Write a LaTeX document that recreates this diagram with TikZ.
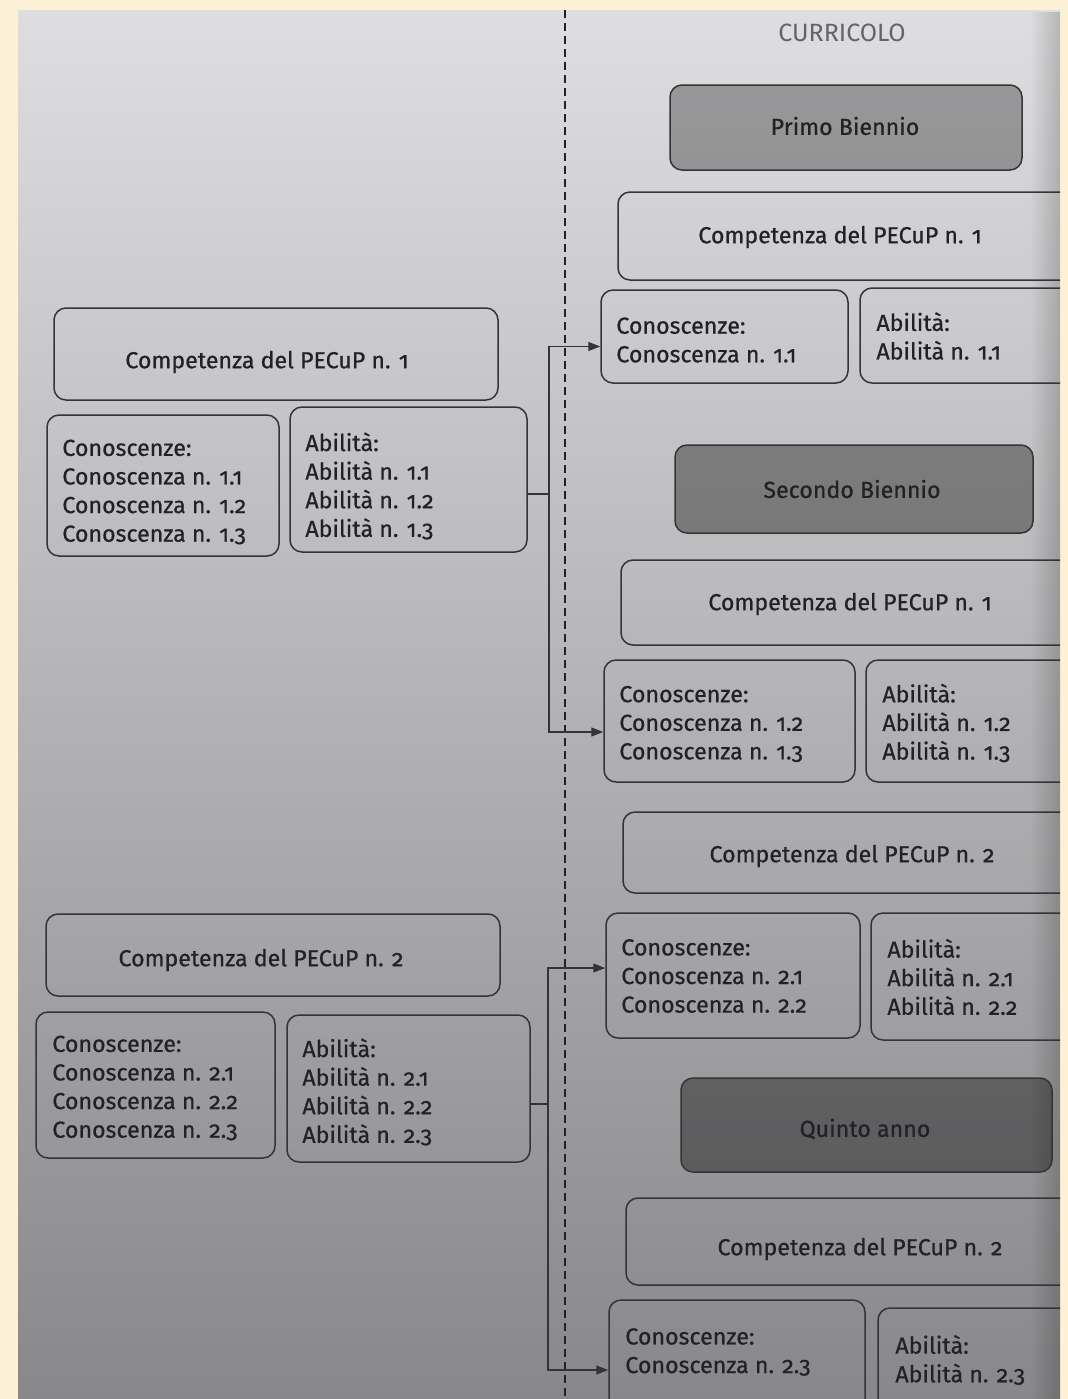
\documentclass[tikz,border=0pt]{standalone}
\usepackage{fontspec}
\setmainfont{Fira Sans}[Numbers=OldStyle, FakeBold=0.6]
\newfontfamily\titlefont{Fira Sans}[Numbers=OldStyle]
\usetikzlibrary{arrows.meta,fit,fadings}
\definecolor{cream}{RGB}{252,240,214}
\definecolor{pgtop}{RGB}{222,222,224}
\definecolor{pgmid}{RGB}{182,182,184}
\definecolor{pgbot}{RGB}{136,136,138}
\definecolor{ink}{RGB}{34,34,36}
\definecolor{edge}{RGB}{52,52,54}
\tikzset{
  box/.style={draw=edge, line width=0.75pt, rounded corners=6pt, inner sep=0pt},
  hdr/.style={box, fill=black, fill opacity=0.3, text opacity=1},
  lbl/.style={text=ink, font=\fontsize{11.6}{14.3}\selectfont, inner sep=0pt},
  lst/.style={lbl, anchor=west, align=left},
  conn/.style={draw=edge, line width=0.6pt},
  tip/.style={-{Triangle[length=6pt,width=4.5pt]}},
  divider/.style={draw=ink, line width=1.1pt, dash pattern=on 4pt off 2.5pt}
}
\begin{document}
\begin{tikzpicture}[x=0.5pt,y=-0.5pt]
\useasboundingbox (0,0) rectangle (1068,1399);
% photo surround and page
\fill[cream] (0,0) rectangle (1068,1399);
\shade[top color=pgtop, middle color=pgmid, bottom color=pgbot] (18,10) rectangle (1060,1399);
\fill[black, opacity=0.18, path fading=west] (1030,10) rectangle (1060,1399);

% dividing line between the two columns
\coordinate (dtop) at (565,10);
\coordinate (dbot) at (565,1399);
\draw[divider] (dtop) -- (dbot);

\node[lbl, text=ink!70, font=\titlefont\fontsize{12.5}{14}\selectfont] (title) at (842,33) {CURRICOLO};

\begin{scope}
\clip (18,10) rectangle (1060,1399);
% left column
\node[box, fit={(54,308) (498,400)}] (lcomp1) {};
\node[lbl] (lcomp1t) at (267,362) {Competenza del PECuP n. 1};
\node[box, fit={(47,415) (279,556)}] (lcon1) {};
\node[lst] (lcon1t) at (62,492) {Conoscenze:\\Conoscenza n. 1.1\\Conoscenza n. 1.2\\Conoscenza n. 1.3};
\node[box, fit={(290,407) (527,552)}] (labi1) {};
\node[lst] (labi1t) at (305,486) {Abilità:\\Abilità n. 1.1\\Abilità n. 1.2\\Abilità n. 1.3};

\node[box, fit={(46,914) (500,996)}] (lcomp2) {};
\node[lbl] (lcomp2t) at (261,960) {Competenza del PECuP n. 2};
\node[box, fit={(36,1012) (275,1158)}] (lcon2) {};
\node[lst] (lcon2t) at (52,1088) {Conoscenze:\\Conoscenza n. 2.1\\Conoscenza n. 2.2\\Conoscenza n. 2.3};
\node[box, fit={(287,1015) (530,1162)}] (labi2) {};
\node[lst] (labi2t) at (302,1092) {Abilità:\\Abilità n. 2.1\\Abilità n. 2.2\\Abilità n. 2.3};

% right column
\node[hdr, fit={(670,85) (1022,170)}] (hdr1) {};
\node[lbl] (hdr1t) at (845,126) {Primo Biennio};
\node[box, fit={(618,192) (1110,280)}] (rcomp1) {};
\node[lbl] (rcomp1t) at (840,237) {Competenza del PECuP n. 1};
\node[box, fit={(601,290) (848,383)}] (rcon1) {};
\node[lst] (rcon1t) at (616,340) {Conoscenze:\\Conoscenza n. 1.1};
\node[box, fit={(860,288) (1110,383)}] (rabi1) {};
\node[lst] (rabi1t) at (876,336) {Abilità:\\Abilità n. 1.1};

\node[hdr, fill opacity=0.36, fit={(675,445) (1033,533)}] (hdr2) {};
\node[lbl] (hdr2t) at (852,489) {Secondo Biennio};
\node[box, fit={(621,560) (1110,645)}] (rcomp2) {};
\node[lbl] (rcomp2t) at (850,604) {Competenza del PECuP n. 1};
\node[box, fit={(604,660) (855,782)}] (rcon2) {};
\node[lst] (rcon2t) at (619,724) {Conoscenze:\\Conoscenza n. 1.2\\Conoscenza n. 1.3};
\node[box, fit={(866,660) (1110,782)}] (rabi2) {};
\node[lst] (rabi2t) at (882,723) {Abilità:\\Abilità n. 1.2\\Abilità n. 1.3};

\node[box, fit={(623,812) (1110,893)}] (rcomp3) {};
\node[lbl] (rcomp3t) at (852,856) {Competenza del PECuP n. 2};
\node[box, fit={(606,913) (860,1038)}] (rcon3) {};
\node[lst] (rcon3t) at (621,976) {Conoscenze:\\Conoscenza n. 2.1\\Conoscenza n. 2.2};
\node[box, fit={(871,913) (1110,1040)}] (rabi3) {};
\node[lst] (rabi3t) at (887,977) {Abilità:\\Abilità n. 2.1\\Abilità n. 2.2};

\node[hdr, fill opacity=0.38, fit={(681,1078) (1052,1172)}] (hdr3) {};
\node[lbl] (hdr3t) at (865,1129) {Quinto anno};
\node[box, fit={(626,1198) (1110,1285)}] (rcomp4) {};
\node[lbl] (rcomp4t) at (860,1249) {Competenza del PECuP n. 2};
\node[box, fit={(609,1300) (865,1430)}] (rcon4) {};
\node[lst] (rcon4t) at (625,1352) {Conoscenze:\\Conoscenza n. 2.3};
\node[box, fit={(878,1308) (1110,1430)}] (rabi4) {};
\node[lst] (rabi4t) at (895,1360) {Abilità:\\Abilità n. 2.3};
\end{scope}

% connectors from the left column to the right column
\coordinate (v1) at (549,0);
\coordinate (s1) at ([yshift=-7.25pt]labi1.east);
\coordinate (e1) at ([yshift=-5pt]rcon1.west);
\coordinate (e2) at ([yshift=-5.5pt]rcon2.west);
\draw[conn] (s1) -- (s1 -| v1);
\draw[conn, tip] (s1 -| v1) |- (e1);
\draw[conn, tip] (s1 -| v1) |- (e2);

\coordinate (v2) at (548,0);
\coordinate (s2) at ([yshift=-7.75pt]labi2.east);
\coordinate (e3) at ([yshift=3.75pt]rcon3.west);
\coordinate (e4) at ([yshift=-2.5pt]rcon4.west);
\draw[conn] (s2) -- (s2 -| v2);
\draw[conn, tip] (s2 -| v2) |- (e3);
\draw[conn, tip] (s2 -| v2) |- (e4);
\end{tikzpicture}
\end{document}
